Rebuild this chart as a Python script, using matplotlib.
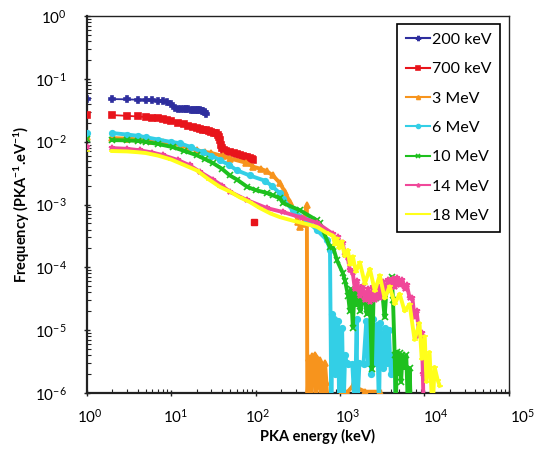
# PKA spectra plot
import matplotlib
matplotlib.use("Agg")
import matplotlib.pyplot as plt
import matplotlib.transforms as mtransforms
from matplotlib.ticker import LogLocator, NullFormatter
import numpy as np

plt.rcParams['font.family'] = ['Lato', 'DejaVu Sans']
plt.rcParams['mathtext.fontset'] = 'custom'
plt.rcParams['mathtext.rm'] = 'Lato'
plt.rcParams['mathtext.it'] = 'Lato:italic'
plt.rcParams['mathtext.bf'] = 'Lato:bold'

labels = ['200 keV', '700 keV', '3 MeV', '6 MeV', '10 MeV', '14 MeV', '18 MeV']
colors = ['#2E2E9E', '#E8141B', '#F7941D', '#33CFE6', '#1EC01E', '#F0489A', '#FFFF1A']
markers = ['P', 's', '^', 'o', 'x', '*', '_']

# value at E = 1 keV (isolated first point of every series)
first_F = [0.0477, 0.0265, 0.0118, 0.0137, 0.0109, 0.0082, 0.0071]

# 200 keV
blue_E = [2, 3, 4, 5, 6, 7, 8, 9, 10, 11, 12, 13, 14, 15, 16, 17, 18, 19, 20, 21, 22, 23, 24, 25, 26]
blue_F = [0.0477, 0.0472, 0.0465, 0.0459, 0.0455, 0.0450, 0.0442, 0.0428, 0.0398, 0.0343, 0.0332,
          0.0330, 0.0330, 0.0328, 0.0326, 0.0325, 0.0324, 0.0322, 0.0320, 0.0318, 0.0316, 0.0312,
          0.0305, 0.0297, 0.0276]

# 700 keV
red_E = [2, 3, 4, 5, 6, 7, 8, 9, 10, 12, 14, 16, 18, 20, 22, 24, 26, 28, 30, 32, 34, 36, 37, 38, 39,
         40, 42, 45, 50, 55, 60, 65, 70, 75, 80, 85, 90, 93]
red_F = [0.0265, 0.0258, 0.0252, 0.0247, 0.0242, 0.0236, 0.0230, 0.0222, 0.0214, 0.0200, 0.0190,
         0.0180, 0.0172, 0.0165, 0.0160, 0.0156, 0.0153, 0.0148, 0.0144, 0.0140, 0.0137, 0.0130,
         0.0120, 0.0105, 0.0090, 0.0080, 0.0074, 0.0071, 0.0068, 0.0066, 0.0063, 0.0061, 0.0059,
         0.0058, 0.0057, 0.0056, 0.0054, 0.0051]
red_out_E = [95]
red_out_F = [5.3e-4]

# 3 MeV
orange_E = [2, 3, 4, 5, 6, 8, 10, 13, 16, 20, 25, 30, 41, 50, 78, 93, 115, 135, 160, 194, 222, 254,
            292, 318, 335, 363, 385, 405, 410, 425, 440, 455, 470, 490, 505, 520, 540, 560, 580,
            600, 620, 640, 665, 690, 720, 760, 1050, 1200, 1420, 1550, 1600, 2000, 3000]
orange_F = [0.0114, 0.0112, 0.0109, 0.0106, 0.0103, 0.0099, 0.0096, 0.0088, 0.0080, 0.0073,
            0.0069, 0.0066, 0.0059, 0.0054, 0.0046, 0.0040, 0.0037, 0.0034, 0.0029, 0.0022,
            0.0016, 0.0011, 7.6e-4, 5.3e-4, 4.4e-4, 4.9e-4, 6.8e-4, 9.8e-4, 5e-7, 3.6e-6, 3.3e-6,
            5e-7, 3.9e-6, 1.6e-6, 4.1e-6, 5e-7, 3.6e-6, 1.3e-6, 3.3e-6, 5e-7, 2.6e-6, 5e-7,
            3.0e-6, 1.5e-6, 5e-7, 5e-7, 1.05e-6, 1.0e-6, 1.3e-6, 2.2e-6, 1.2e-6, 1.05e-6, 1.05e-6]

# 6 MeV
cyan_E = [2, 3, 4, 5, 7, 10, 12.6, 17, 23.6, 30, 37.6, 48, 60, 85, 128, 155, 194, 210, 276, 405,
          534, 703, 761, 790, 815, 840, 860, 880, 900, 930, 950, 980, 1000, 1030, 1060, 1100,
          1150, 1200, 1250, 1400, 1500, 1580, 1600, 1700, 1900, 2050, 2150, 2250, 2350, 2450,
          2600, 2750, 2900, 3000, 3200, 3400, 3600, 3800, 4000, 4200, 4450, 4600]
cyan_F = [0.0137, 0.0130, 0.0124, 0.0118, 0.0108, 0.0099, 0.0095, 0.0082, 0.0068, 0.0060,
          0.0051, 0.0043, 0.0035, 0.0029, 0.0024, 0.0020, 0.0015, 0.00122, 8.1e-4, 5.6e-4,
          3.9e-4, 2.7e-4, 1.9e-4, 5e-7, 1.8e-5, 4e-6, 1.5e-5, 2e-6, 1.2e-5, 3e-6, 1.4e-5, 5e-7,
          1.0e-5, 2.5e-6, 1.1e-5, 5e-7, 4e-6, 3e-6, 2.9e-6, 2.9e-6, 5e-7, 1.5e-5, 5e-7, 3e-6,
          2.9e-6, 1.4e-5, 3e-6, 1.3e-5, 2e-6, 1.5e-5, 3e-6, 1.2e-5, 5e-7, 1.3e-5, 2.5e-6,
          1.1e-5, 3e-6, 1.0e-5, 2e-6, 4e-6, 3.5e-6, 5e-7]

# 10 MeV
green_E = [2, 3, 4, 5, 7, 10.4, 14, 20, 25, 31, 40, 49.5, 60, 80, 100, 135, 160, 194, 210, 335, 534,
           580, 761, 827, 920, 1080, 1150, 1250, 1310, 1350, 1420, 1480, 1550, 1650, 1750, 1850,
           1950, 2080, 2250, 2390, 2500, 2700, 2950, 3200, 3380, 3560, 3880, 4100, 4250, 4450,
           4600, 4700, 4900, 5100, 5300, 5500, 5800, 6100, 6400, 6700, 6900]
green_F = [0.0106, 0.0105, 0.0103, 0.0099, 0.0092, 0.0082, 0.0072, 0.0061, 0.0053, 0.0046,
           0.0037, 0.0029, 0.0025, 0.0019, 0.0017, 0.00153, 0.0014, 0.00127, 0.00106, 8.1e-4,
           5.6e-4, 5.0e-4, 2.1e-4, 2.1e-4, 1.3e-4, 8.1e-5, 6e-5, 3.5e-5, 2e-5, 4.5e-5, 1.1e-5,
           4.0e-5, 2.5e-5, 4.5e-5, 2.0e-5, 3.8e-5, 3.0e-5, 1.8e-5, 3.5e-5, 2.4e-6, 3.5e-5,
           3.2e-5, 4e-5, 3.5e-5, 1.6e-5, 4.5e-5, 5.5e-5, 7e-5, 3e-5, 4e-6, 5e-7, 4.5e-6, 2e-6,
           4.3e-6, 1.5e-6, 4e-6, 2.5e-6, 4e-6, 5e-7, 2.5e-6, 5e-7]

# 14 MeV
pink_E = [2, 3, 4.24, 6, 8, 12, 16.6, 22, 31, 40, 49.5, 78.5, 135, 210, 350, 534, 827, 880, 950,
          1000, 1080, 1140, 1240, 1310, 1420, 1500, 1600, 1720, 1850, 1970, 2140, 2260, 2450,
          2590, 2800, 2960, 3200, 3380, 3700, 3880, 4200, 4450, 4800, 5090, 5500, 5830, 6200,
          6680, 7200, 7650, 8100, 8750, 9300, 9600, 9800]
pink_F = [0.0079, 0.0077, 0.0073, 0.0067, 0.0061, 0.0051, 0.0042, 0.0033, 0.0025, 0.0020, 0.0016,
          0.00118, 8.8e-4, 7.6e-4, 6.2e-4, 5.1e-4, 3.4e-4, 2.8e-4, 3.0e-4, 2.2e-4, 2.4e-4,
          1.6e-4, 1.4e-4, 9e-5, 8e-5, 4.5e-5, 6e-5, 3.5e-5, 5e-5, 3e-5, 4.5e-5, 2.8e-5, 4.8e-5,
          3e-5, 5e-5, 3.3e-5, 5.8e-5, 3.8e-5, 6.3e-5, 4.3e-5, 6.5e-5, 4.8e-5, 6.8e-5, 5.2e-5,
          6.3e-5, 4.6e-5, 5.2e-5, 3.3e-5, 3.3e-5, 1.6e-5, 2.0e-5, 8e-6, 9e-6, 2e-6, 5e-7]

# 18 MeV
yellow_E = [2, 3, 4, 5, 7, 10, 14, 20, 28, 38, 50, 65, 85, 112, 150, 194, 280, 400, 534, 680, 827,
            870, 920, 980, 1050, 1140, 1240, 1310, 1420, 1540, 1720, 1970, 2260, 2590, 2960,
            3380, 3880, 4450, 5090, 5830, 6680, 7650, 8750, 9300, 10100, 10600, 11500, 12500,
            13200, 14400, 15200]
yellow_F = [0.0071, 0.0070, 0.0068, 0.0066, 0.0060, 0.0052, 0.0043, 0.0035, 0.0025, 0.0019,
            0.0016, 0.0013, 0.0011, 8.8e-4, 7.2e-4, 6.3e-4, 5.5e-4, 4.9e-4, 4.4e-4, 3.6e-4,
            3.2e-4, 2.3e-4, 2.9e-4, 2.0e-4, 2.6e-4, 1.5e-4, 1.9e-4, 1.1e-4, 1.5e-4, 8.5e-5,
            1.2e-4, 5.5e-5, 9.5e-5, 4.2e-5, 7.5e-5, 3.2e-5, 5e-5, 2.6e-5, 3.8e-5, 2.0e-5, 2.6e-5,
            7e-6, 1.3e-5, 3.5e-6, 8e-6, 1.5e-6, 4.5e-6, 5e-7, 2.6e-6, 1.6e-6, 1.3e-6]

series = [(blue_E, blue_F), (red_E, red_F), (orange_E, orange_F), (cyan_E, cyan_F),
          (green_E, green_F), (pink_E, pink_F), (yellow_E, yellow_F)]

fig = plt.figure(figsize=(5.53, 4.49), dpi=100)
ax = fig.add_axes([0.157, 0.1247, 0.763, 0.8396])

for i, (E, F) in enumerate(series):
    lw = 1.3 if i < 2 else 2.8
    ax.plot(E, F, color=colors[i], lw=lw, marker=markers[i], ms=4, mew=1.2,
            label=labels[i], zorder=2 + i)
    ax.plot([1], [first_F[i]], color=colors[i], marker=markers[i], ms=4, mew=1.2,
            ls='none', zorder=2 + i)
ax.plot(red_out_E, red_out_F, color=colors[1], marker='s', ms=4, ls='none', zorder=3)

ax.set_xscale('log')
ax.set_yscale('log')
ax.set_xlim(1, 1e5)
ax.set_ylim(1e-6, 1)
ax.xaxis.set_minor_locator(LogLocator(base=10, subs=np.arange(2, 10), numticks=20))
ax.yaxis.set_minor_locator(LogLocator(base=10, subs=np.arange(2, 10), numticks=20))
ax.xaxis.set_minor_formatter(NullFormatter())
ax.yaxis.set_minor_formatter(NullFormatter())
ax.set_xticks([1, 10, 100, 1000, 1e4, 1e5])
ax.set_xticklabels([r'$10^{%d}$' % k for k in range(6)])
ax.set_yticks([1e-6, 1e-5, 1e-4, 1e-3, 1e-2, 1e-1, 1])
ax.set_yticklabels([r'$10^{%d}$' % k for k in range(-6, 1)])
ax.tick_params(which='major', direction='inout', length=5, width=1, labelsize=11, color='#222222')
ax.tick_params(which='minor', direction='in', length=3, width=0.8, color='#222222')
ax.tick_params(axis='y', which='major', pad=12)
ax.tick_params(axis='x', which='major', pad=8)

# the x tick labels in the original sit a little right of their ticks
shifts = [3, 4, 2, 8, 11, 14]
for lab, dx in zip(ax.get_xticklabels(), shifts):
    lab.set_transform(lab.get_transform() +
                      mtransforms.ScaledTranslation(dx / 100, 0, fig.dpi_scale_trans))

for s in ['left', 'bottom']:
    ax.spines[s].set_linewidth(1.6)
    ax.spines[s].set_color('#222222')
for s in ['top', 'right']:
    ax.spines[s].set_linewidth(1.0)
    ax.spines[s].set_color('#222222')

ax.set_xlabel('PKA energy (keV)', fontsize=10.5, fontweight='bold')
ax.xaxis.set_label_coords(0.547, -0.095)
ax.set_ylabel(r'Frequency (PKA$^{\mathbf{-1}}$.eV$^{\mathbf{-1}}$)', fontsize=10.5,
              fontweight='bold', labelpad=2)

leg = ax.legend(loc='upper left', bbox_to_anchor=(0.735, 0.979), fontsize=11.5,
                frameon=True, fancybox=False, framealpha=1, edgecolor='black',
                borderpad=0.55, labelspacing=0.95, handlelength=1.5, handletextpad=0.15,
                borderaxespad=0, markerscale=0.7)
leg.get_frame().set_linewidth(1.2)
for h in leg.get_lines():
    h.set_linewidth(1.5)

fig.savefig('out.png', dpi=100)
